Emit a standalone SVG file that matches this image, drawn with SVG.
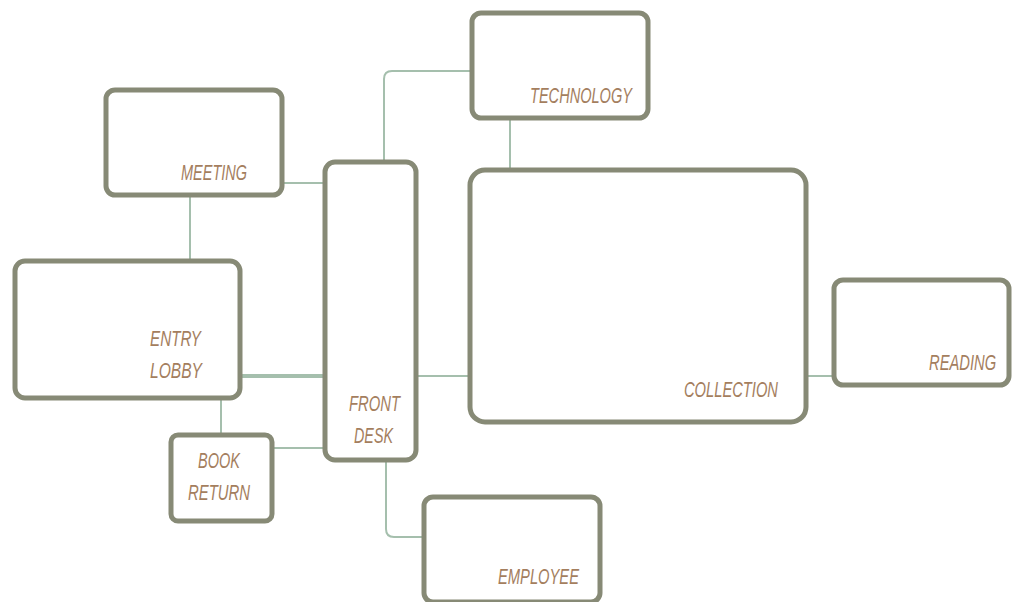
<svg xmlns="http://www.w3.org/2000/svg" width="1013" height="602" viewBox="0 0 1013 602">
<style>
.n{fill:#fff;stroke:#878a76;stroke-width:5}
.c{fill:none;stroke:#a5bfad;stroke-width:2}
.t{font-family:"Liberation Sans",Arial,sans-serif;font-style:italic;font-size:22px;fill:#a47e5e}
</style>
<rect width="1013" height="602" fill="#fff"/>
<g id="connectors">
<path class="c" d="M282 183H325"/>
<path class="c" d="M190 195V261"/>
<path class="c" d="M384 162V79Q384 71 392 71H471"/>
<path class="c" d="M510 118V169"/>
<path class="c" d="M240 376H325" style="stroke-width:4"/>
<path class="c" d="M416 376H469"/>
<path class="c" d="M221 398V435"/>
<path class="c" d="M272 448H325"/>
<path class="c" d="M386 460V529Q386 537 394 537H424"/>
<path class="c" d="M806 376H833"/>
</g>
<g id="technology"><rect class="n" x="472" y="13" width="176" height="105" rx="9"/><text class="t" x="530" y="103" textLength="102" lengthAdjust="spacingAndGlyphs">TECHNOLOGY</text></g>
<g id="meeting"><rect class="n" x="106" y="90" width="176" height="105" rx="9"/><text class="t" x="181" y="180" textLength="66" lengthAdjust="spacingAndGlyphs">MEETING</text></g>
<g id="front-desk"><rect class="n" x="325" y="162" width="91" height="298" rx="10"/><text class="t" x="349" y="411" textLength="51" lengthAdjust="spacingAndGlyphs">FRONT</text><text class="t" x="354" y="443" textLength="39" lengthAdjust="spacingAndGlyphs">DESK</text></g>
<g id="collection"><rect class="n" x="470" y="170" width="336" height="252" rx="15"/><text class="t" x="684" y="397" textLength="94" lengthAdjust="spacingAndGlyphs">COLLECTION</text></g>
<g id="reading"><rect class="n" x="834" y="280" width="175" height="105" rx="9"/><text class="t" transform="translate(929 370) scale(0.67 1)">READING</text></g>
<g id="entry-lobby"><rect class="n" x="15" y="261" width="225" height="137" rx="10"/><text class="t" x="150" y="346" textLength="51" lengthAdjust="spacingAndGlyphs">ENTRY</text><text class="t" x="150" y="378" textLength="52" lengthAdjust="spacingAndGlyphs">LOBBY</text></g>
<g id="book-return"><rect class="n" x="171" y="435" width="101" height="86" rx="7"/><text class="t" x="198" y="468" textLength="42" lengthAdjust="spacingAndGlyphs">BOOK</text><text class="t" x="188" y="500" textLength="62" lengthAdjust="spacingAndGlyphs">RETURN</text></g>
<g id="employee"><rect class="n" x="424" y="497" width="176" height="105" rx="9"/><text class="t" x="498" y="584" textLength="81" lengthAdjust="spacingAndGlyphs">EMPLOYEE</text></g>
</svg>
